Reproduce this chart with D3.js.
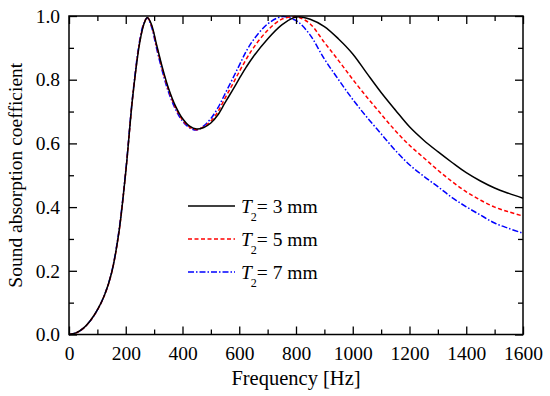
<!DOCTYPE html>
<html>
<head>
<meta charset="utf-8">
<script src="https://cdn.jsdelivr.net/npm/d3@7"></script>
<style>
  body { margin: 0; background: #fff; }
  text { font-family: "Liberation Serif", "Times New Roman", serif; }
</style>
</head>
<body>
<div id="root"></div>
<script>
// frequencies shared by all three curves
const freq = [0, 25, 50, 75, 100, 125, 150, 175, 200, 225, 250, 265, 276, 290, 310, 330, 350, 375, 400, 425, 450, 475, 500, 525, 550, 575, 600, 625, 650, 700, 750, 790, 810, 850, 900, 950, 1000, 1050, 1100, 1150, 1200, 1250, 1300, 1350, 1400, 1450, 1500, 1550, 1600];

const t3mm = [0, 0.005, 0.019, 0.043, 0.077, 0.123, 0.193, 0.315, 0.51, 0.75, 0.92, 0.977, 0.995, 0.975, 0.905, 0.835, 0.775, 0.718, 0.678, 0.654, 0.645, 0.65, 0.664, 0.69, 0.728, 0.765, 0.803, 0.84, 0.873, 0.928, 0.972, 0.994, 0.998, 0.99, 0.967, 0.928, 0.881, 0.82, 0.76, 0.705, 0.652, 0.61, 0.574, 0.54, 0.508, 0.482, 0.46, 0.443, 0.428];

const t5mm = [0, 0.005, 0.019, 0.043, 0.077, 0.123, 0.193, 0.315, 0.51, 0.75, 0.922, 0.978, 0.995, 0.972, 0.9, 0.83, 0.77, 0.713, 0.674, 0.651, 0.643, 0.652, 0.67, 0.7, 0.742, 0.783, 0.825, 0.865, 0.9, 0.955, 0.99, 0.998, 0.996, 0.975, 0.917, 0.86, 0.801, 0.745, 0.692, 0.64, 0.594, 0.555, 0.516, 0.48, 0.448, 0.422, 0.4, 0.385, 0.372];

const t7mm = [0, 0.005, 0.019, 0.043, 0.077, 0.124, 0.195, 0.32, 0.515, 0.755, 0.928, 0.98, 0.994, 0.968, 0.893, 0.823, 0.763, 0.708, 0.67, 0.649, 0.642, 0.655, 0.678, 0.712, 0.756, 0.8, 0.845, 0.89, 0.925, 0.975, 0.998, 0.99, 0.98, 0.94, 0.865, 0.8, 0.738, 0.682, 0.63, 0.578, 0.533, 0.497, 0.464, 0.43, 0.401, 0.375, 0.35, 0.333, 0.318];

const seriesNames = ["3 mm", "5 mm", "7 mm"];
const seriesColors = ["#000000", "#ff0000", "#0000ff"];
const seriesDash = [null, "4,2.5", "6,2,1.5,2"];
const xTicks = [0, 200, 400, 600, 800, 1000, 1200, 1400, 1600];
const yTicks = [0, 0.2, 0.4, 0.6, 0.8, 1.0];

const w = 550, h = 396;
const margin = { top: 16, right: 27, bottom: 61.5, left: 69 };
const width = w - margin.left - margin.right;
const height = h - margin.top - margin.bottom;

const svg = d3.select("#root").append("svg")
    .attr("width", w)
    .attr("height", h)
  .append("g")
    .attr("transform", "translate(" + margin.left + "," + margin.top + ")");

const x = d3.scaleLinear().domain([0, 1600]).range([0, width]);
const y = d3.scaleLinear().domain([0, 1]).range([height, 0]);

const series = [t3mm, t5mm, t7mm].map((vals, i) => ({
  name: seriesNames[i],
  color: seriesColors[i],
  dash: seriesDash[i],
  values: freq.map((f, j) => ({ f: f, a: vals[j] }))
}));

const line = d3.line()
  .x(d => x(d.f))
  .y(d => y(d.a))
  .curve(d3.curveCatmullRom.alpha(0.5));

const curves = svg.append("g");
// draw in reverse so black ends on top like the original
series.slice().reverse().forEach(s => {
  curves.append("path")
    .datum(s.values)
    .attr("d", line)
    .attr("fill", "none")
    .attr("stroke", s.color)
    .attr("stroke-width", 1.5)
    .attr("stroke-dasharray", s.dash);
});

// ticks, all inward, on four sides
const xMinor = d3.range(100, 1600, 200);
const yMinor = d3.range(0.1, 1.0, 0.2);

function tickAxis(axisFn, scale, vals, size, labels) {
  return axisFn(scale).tickValues(vals).tickSizeInner(-size).tickSizeOuter(0)
    .tickPadding(labels ? 12 : 0)
    .tickFormat(labels ? labels : "");
}

const bottomAx = svg.append("g").attr("transform", "translate(0," + height + ")");
bottomAx.call(tickAxis(d3.axisBottom, x, xTicks, 8, d3.format("d")));
bottomAx.append("g").call(tickAxis(d3.axisBottom, x, xMinor, 5, null));

const leftAx = svg.append("g");
leftAx.call(tickAxis(d3.axisLeft, y, yTicks, 8, d3.format(".1f")));
leftAx.append("g").call(tickAxis(d3.axisLeft, y, yMinor, 5, null));

const topAx = svg.append("g");
topAx.call(tickAxis(d3.axisTop, x, xTicks, 8, null));
topAx.append("g").call(tickAxis(d3.axisTop, x, xMinor, 5, null));

const rightAx = svg.append("g").attr("transform", "translate(" + width + ",0)");
rightAx.call(tickAxis(d3.axisRight, y, yTicks, 8, null));
rightAx.append("g").call(tickAxis(d3.axisRight, y, yMinor, 5, null));

svg.selectAll(".domain").remove();
svg.selectAll(".tick line").attr("stroke", "#000").attr("stroke-width", 1.3);
svg.selectAll(".tick text")
  .attr("font-size", 19.5)
  .attr("fill", "#000");
leftAx.selectAll(".tick text").attr("x", -9);
bottomAx.selectAll(".tick text").attr("y", 12);

svg.append("rect")
  .attr("width", width)
  .attr("height", height)
  .attr("fill", "none")
  .attr("stroke", "#000")
  .attr("stroke-width", 1.5);

// axis titles
svg.append("text")
  .attr("x", width / 2)
  .attr("y", height + 50)
  .attr("text-anchor", "middle")
  .attr("font-size", 20.5)
  .text("Frequency [Hz]");

svg.append("text")
  .attr("transform", "rotate(-90)")
  .attr("x", -height / 2)
  .attr("y", -47)
  .attr("text-anchor", "middle")
  .attr("font-size", 19.5)
  .text("Sound absorption coefficient");

// legend
const legend = svg.append("g").attr("transform", "translate(119,190)");
series.forEach((s, i) => {
  const g = legend.append("g").attr("transform", "translate(0," + (i * 33) + ")");
  g.append("line")
    .attr("x1", 0).attr("x2", 47)
    .attr("stroke", s.color)
    .attr("stroke-width", 1.5)
    .attr("stroke-dasharray", s.dash);
  const t = g.append("text")
    .attr("x", 53)
    .attr("y", 6.5)
    .attr("font-size", 19.5);
  t.append("tspan").attr("font-style", "italic").text("T");
  t.append("tspan").attr("font-size", 12).attr("dy", 8).attr("dx", -1).text("2");
  t.append("tspan").attr("dy", -8).attr("dx", 0).text("= " + s.name);
});
</script>
</body>
</html>
